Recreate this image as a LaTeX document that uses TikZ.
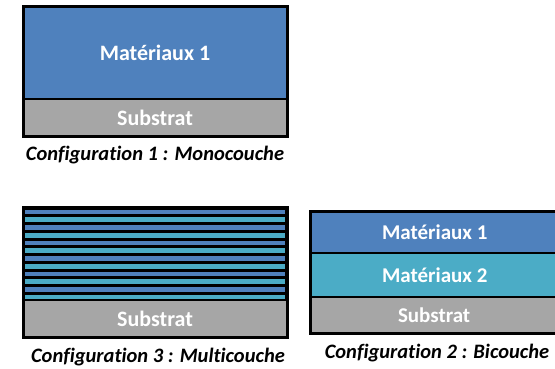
\documentclass[tikz,border=0pt]{standalone}
\usepackage{fontspec}
\setmainfont[Ligatures=NoCommon]{Carlito}
\definecolor{matblue}{HTML}{4F81BD}
\definecolor{matteal}{HTML}{4BACC6}
\definecolor{subgray}{HTML}{A6A6A6}
\begin{document}
\begin{tikzpicture}[x=1pt,y=-1pt,
		layer/.style={draw=black, line width=2pt, rectangle, anchor=north west, inner sep=0pt, outer sep=0pt, text=white, font=\bfseries\fontsize{22}{26}\selectfont},
		subbox/.style={layer, fill=subgray, font=\bfseries\fontsize{22}{26}\selectfont},
		caption/.style={font=\bfseries\itshape\fontsize{20.5}{24}\selectfont, inner sep=0pt},
	]
	\useasboundingbox (0,0) rectangle (555,369);
	% configuration 1
	\node[layer, fill=matblue, minimum width=264pt, minimum height=92pt] (mono1) at (23,7) {Matériaux 1};
	\node[subbox, minimum width=264pt, minimum height=38pt] (monosub) at (23,99) {Substrat};
	\draw[line width=3pt] (mono1.north west) rectangle (monosub.south east);
	\node[caption] (cap1) at (155,155) {Configuration 1 : Monocouche};
	% configuration 3
	\node[layer, fill=black, minimum width=264pt, minimum height=93pt] (multi) at (23,207) {};
	\foreach \i in {0,...,11}{
		\ifodd\i \def\stripe{matteal}\else \def\stripe{matblue}\fi
		\fill[\stripe] (25,{209.5+7.75*\i}) rectangle (285,{214.3+7.75*\i});
	}
	\node[subbox, minimum width=264pt, minimum height=37pt] (multisub) at (23,300) {Substrat};
	\draw[line width=3pt] (multi.north west) rectangle (multisub.south east);
	\node[caption] (cap3) at (158,357) {Configuration 3 : Multicouche};
	% configuration 2
	\node[layer, fill=matblue, minimum width=247pt, minimum height=42pt, font=\bfseries\fontsize{21}{25}\selectfont] (bi1) at (310,211) {\makebox[247pt][l]{\hspace{72pt}Matériaux 1}};
	\node[layer, fill=matteal, minimum width=247pt, minimum height=44pt, font=\bfseries\fontsize{21}{25}\selectfont] (bi2) at (310,253) {\makebox[247pt][l]{\hspace{72pt}Matériaux 2}};
	\node[subbox, minimum width=247pt, minimum height=36pt, font=\bfseries\fontsize{21}{25}\selectfont] (bisub) at (310,297) {\makebox[247pt][l]{\hspace{88pt}Substrat}};
	\draw[line width=3pt] (bi1.north west) rectangle (bisub.south east);
	\node[caption] (cap2) at (437,353) {Configuration 2 : Bicouche};
\end{tikzpicture}
\end{document}
